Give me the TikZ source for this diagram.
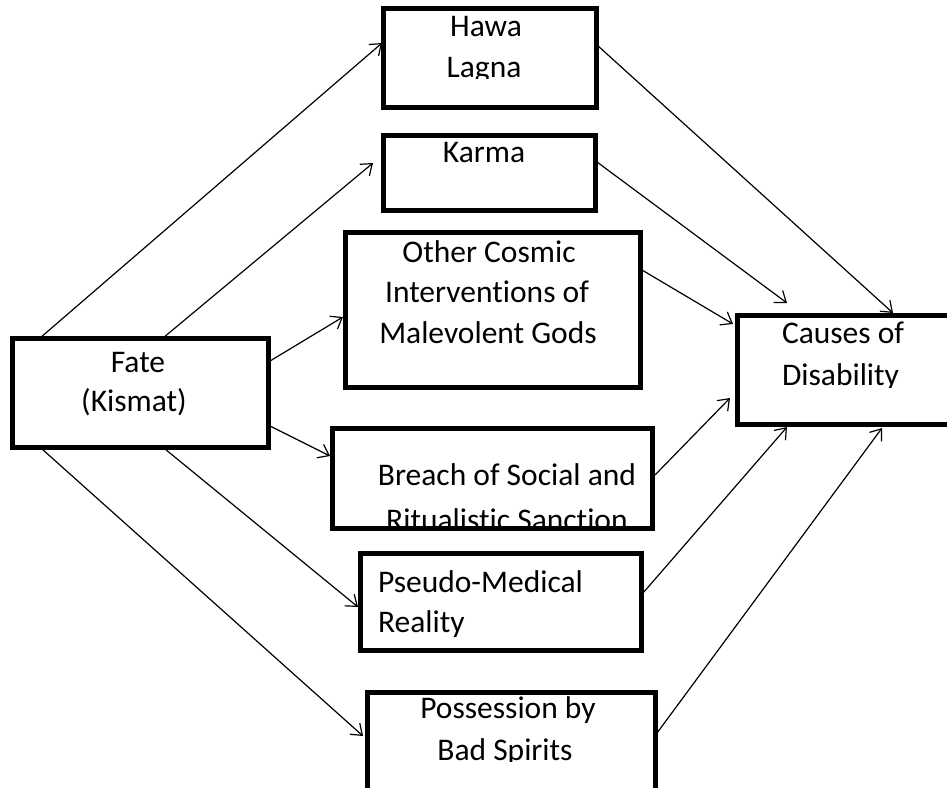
\documentclass[tikz,border=0pt]{standalone}
\usepackage{fontspec}
\setmainfont[Ligatures=NoCommon]{Carlito}
\usetikzlibrary{arrows.meta}
\begin{document}
\begin{tikzpicture}[x=1pt,y=-1pt,
  box/.style={draw, line width=5pt, inner sep=0pt, outer sep=0pt},
  conn/.style={line width=1.2pt, -{Straight Barb[length=10pt,width=15pt,line width=1.2pt]}},
  lbl/.style={anchor=base, inner sep=0pt, outer sep=0pt, font=\fontsize{31.5}{40}\selectfont},
  lblw/.style={lbl, anchor=base west}]
\clip (0,0) rectangle (947,787);
\fill[white] (0,0) rectangle (947,787);

% boxes
\node[box, minimum width=213pt, minimum height=99pt]  (hawa)   at (489.5,57.5) {};
\node[box, minimum width=212pt, minimum height=75pt]  (karma)  at (489,172.5) {};
\node[box, minimum width=295pt, minimum height=155pt] (cosmic) at (492.5,309.5) {};
\node[box, minimum width=256pt, minimum height=109pt] (fate)   at (140,392.5) {};
\node[box, minimum width=320pt, minimum height=100pt] (breach) at (492,478) {};
\node[box, minimum width=281pt, minimum height=97pt]  (pseudo) at (500.5,601.5) {};
\node[box, minimum width=288pt, minimum height=108pt] (poss)   at (511,746) {};
\node[box, minimum width=223pt, minimum height=109pt] (causes) at (848.5,369.5) {};

% texts
\node[lbl] (hawaA) at (486,36) {Hawa};
\begin{scope}
  \clip (380,0) rectangle (600,78);
  \node[lbl] (hawaB) at (484,77) {Lagna};
\end{scope}
\node[lbl] (karmaA) at (484,162) {Karma};
\node[lbl] (cosA) at (489,262) {Other Cosmic};
\node[lbl] (cosB) at (487,302) {Interventions of};
\node[lbl] (cosC) at (488,343) {Malevolent Gods};
\node[lbl] (fateA) at (138,372) {Fate};
\node[lbl] (fateB) at (134,411) {(Kismat)};
\node[lbl] (brA) at (507,485) {Breach of Social and};
\begin{scope}
  \clip (330,490) rectangle (660,526);
  \node[lbl] (brB) at (507,530) {Ritualistic Sanction};
\end{scope}
\node[lblw] (psA) at (378,592) {Pseudo-Medical};
\node[lblw] (psB) at (378,632) {Reality};
\node[lbl] (poA) at (508,718) {Possession by};
\begin{scope}
  \clip (360,725) rectangle (660,761);
  \node[lbl] (poB) at (505,760) {Bad Spirits};
\end{scope}
\node[lblw] (caA) at (782,343) {Causes of};
\begin{scope}
  \clip (740,350) rectangle (947,387);
  \node[lblw] (caB) at (782,385) {Disability};
\end{scope}

% connectors from Fate
\draw[conn] ([xshift=28pt]fate.north west) -- ([xshift=-1pt,yshift=14.5pt]hawa.west);
\draw[conn] ([xshift=23pt]fate.north) -- ([xshift=-10pt,yshift=9.5pt]karma.west);
\draw[conn] ([xshift=2pt,yshift=31.5pt]fate.east) -- ([xshift=-2pt,yshift=-7.5pt]cosmic.west);
\draw[conn] ([xshift=2pt,yshift=-33.5pt]fate.east) -- ([xshift=-2pt,yshift=22pt]breach.west);
\draw[conn] ([xshift=25pt,yshift=-2pt]fate.south) -- ([xshift=-2pt,yshift=-5.5pt]pseudo.west);
\draw[conn] ([xshift=30pt,yshift=-2pt]fate.south west) -- ([xshift=-4pt,yshift=10pt]poss.west);

% connectors to Causes
\draw[conn] ([xshift=1pt,yshift=12.5pt]hawa.east) -- ([xshift=44.5pt,yshift=2pt]causes.north);
\draw[conn] ([xshift=2pt,yshift=10.5pt]karma.east) -- ([xshift=-61.5pt,yshift=12pt]causes.north);
\draw[conn] ([xshift=2pt,yshift=39.5pt]cosmic.east) -- ([xshift=-4pt,yshift=45.5pt]causes.west);
\draw[conn] ([xshift=3pt,yshift=3pt]breach.east) -- ([xshift=-7pt,yshift=-28.5pt]causes.west);
\draw[conn] ([xshift=2pt,yshift=8.5pt]pseudo.east) -- ([xshift=-61.5pt,yshift=-3pt]causes.south);
\draw[conn] ([xshift=2pt,yshift=13pt]poss.east) -- ([xshift=33.5pt,yshift=-4pt]causes.south);
\end{tikzpicture}
\end{document}
